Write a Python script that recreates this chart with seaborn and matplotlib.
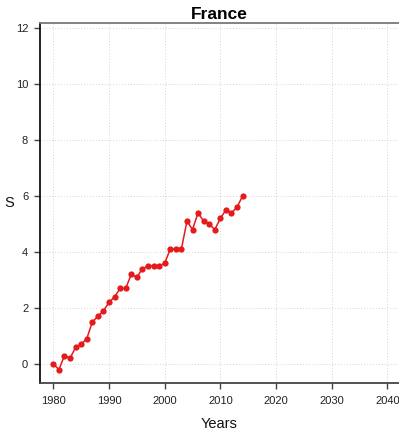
import matplotlib
matplotlib.use("Agg")
import matplotlib.pyplot as plt
import seaborn as sns
import pandas as pd

years = list(range(1980, 2015))
values = [0.0, -0.2, 0.3, 0.2, 0.6, 0.7, 0.9, 1.5, 1.7, 1.9,
          2.2, 2.4, 2.7, 2.7, 3.2, 3.1, 3.4, 3.5, 3.5, 3.5,
          3.6, 4.1, 4.1, 4.1, 5.1, 4.8, 5.4, 5.1, 5.0, 4.8,
          5.2, 5.5, 5.4, 5.6, 6.0]
x_ticks = [1980, 1990, 2000, 2010, 2020, 2030, 2040]
y_ticks = [0, 2, 4, 6, 8, 10, 12]
title = "France"
x_label = "Years"
y_label = "S"

sns.set_theme(style="white")
plt.rcParams["font.family"] = ["Liberation Sans", "DejaVu Sans"]

df = pd.DataFrame({"year": years, "value": values})

fig = plt.figure(figsize=(3.99, 4.30), dpi=100)
ax = fig.add_axes([40 / 399, 1 - 383 / 430, 1 - 40 / 399, (383 - 23) / 430])

sns.lineplot(data=df, x="year", y="value", ax=ax, color="#E41A1C",
             marker="o", markersize=4.5, markeredgewidth=0, linewidth=1.1)

ax.set_xlim(1977.6, 2042.1)
ax.set_ylim(-0.68, 12.18)
ax.set_xticks(x_ticks)
ax.set_yticks(y_ticks)
ax.grid(True, color="#d4d4d4", linestyle=(0, (1, 2)), linewidth=0.7)

ax.spines["right"].set_visible(False)
ax.spines["left"].set_color("#111111")
ax.spines["left"].set_linewidth(1.3)
ax.spines["bottom"].set_color("#444444")
ax.spines["bottom"].set_linewidth(1.3)
ax.spines["top"].set_color("#777777")
ax.spines["top"].set_linewidth(1.3)

ax.tick_params(axis="both", direction="out", length=4.5, width=1,
               color="#444444", labelsize=8, labelcolor="#222222")
ax.tick_params(axis="x", bottom=True, pad=5)
ax.tick_params(axis="y", left=True, pad=4)

ax.set_title(title, fontsize=12.5, fontweight="bold", pad=3, color="black")
ax.set_xlabel(x_label, fontsize=10.5, labelpad=8, color="#111111")
ax.set_ylabel(y_label, fontsize=10.5, rotation=0, va="center", ha="center",
              color="#111111")
ax.yaxis.set_label_coords(-0.085, 0.5)

fig.savefig("out.png", dpi=100)
